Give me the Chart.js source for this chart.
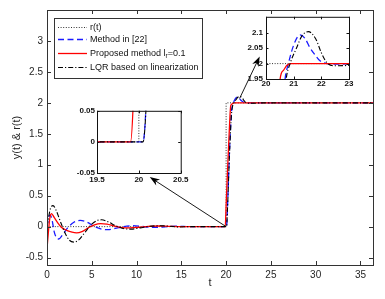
<!DOCTYPE html>
<html>
<head>
<meta charset="utf-8">
<script src="https://cdn.jsdelivr.net/npm/chart.js@4.4.0/dist/chart.umd.min.js"></script>
<style>
  body { margin: 0; background: #fff; }
  #wrap { position: relative; width: 385px; height: 299px; }
  #wrap canvas { position: absolute; }
</style>
</head>
<body>
<div id="wrap">
  <canvas id="mainChart" width="385" height="299" style="left:0;top:0"></canvas>
  <canvas id="zoomLow" width="130" height="84" style="left:60px;top:104px"></canvas>
  <canvas id="zoomHigh" width="128" height="84" style="left:232px;top:9px"></canvas>
</div>
<script>
var seriesNames = ['r(t)', 'Method in [22]', 'Proposed method l', 'LQR based on linearization'];

// reference r(t): step at t = 20
var tRef = [0, 20, 20, 36.5];
var yRef = [0, 0, 2, 2];

// Method in [22]
var tBlue = [0, 0.15, 0.35, 0.55, 0.8, 1.05, 1.3, 1.7, 2.3, 3.0, 3.7, 4.5, 5.3, 6.1, 6.8, 7.6, 8.5, 9.5, 10.5, 11.5, 12.5, 13.5, 14.5, 16,
             20.05, 20.15, 20.4, 20.6, 20.69, 20.81, 21.0, 21.23, 21.4, 21.6, 21.8, 21.95, 22.2, 22.6, 23.2, 36.5];
var yBlue = [0, 0.12, 0.19, 0.12, -0.08, -0.18, -0.2, -0.14, -0.02, 0.07, 0.1, 0.07, 0, -0.04, -0.05, -0.03, 0, 0.015, 0.005, -0.01, -0.01, 0, 0.006, 0,
             0, 0.3, 1.3, 1.85, 1.95, 2.0, 2.06, 2.093, 2.083, 2.05, 2.025, 2.009, 2.0, 1.998, 2.0, 2.0];

// Proposed method
var tRed = [0, 0.15, 0.3, 0.5, 0.8, 1.2, 1.6, 2.2, 2.8, 3.3, 3.9, 4.6, 5.3, 6.0, 6.7, 7.5, 8.4, 9.3, 10.3, 11.3, 12.4, 13.6, 15,
            19.9, 20.0, 20.2, 20.4, 20.51, 20.63, 20.75, 20.9, 36.5];
var yRed = [-0.36, -0.1, 0.12, 0.21, 0.15, 0.06, -0.01, -0.06, -0.09, -0.1, -0.08, -0.02, 0.03, 0.05, 0.04, 0.01, -0.015, -0.02, -0.01, 0.005, 0.01, 0.005, 0,
            0, 0.35, 1.05, 1.7, 1.95, 1.978, 1.994, 2.0, 2.0];

// LQR based on linearization
var tBlack = [0, 0.2, 0.4, 0.67, 1.0, 1.5, 2.0, 2.5, 3.0, 3.5, 4.2, 5.0, 5.6, 6.1, 6.8, 7.6, 8.5, 9.4, 10.4, 11.4, 12.5, 13.6, 14.8, 16,
              20.05, 20.15, 20.4, 20.6, 20.73, 20.87, 21.1, 21.3, 21.53, 21.8, 22.0, 22.2, 22.45, 23.0, 24, 36.5];
var yBlack = [0, 0.17, 0.3, 0.34, 0.27, 0.08, -0.1, -0.22, -0.25, -0.22, -0.1, 0.04, 0.1, 0.11, 0.08, 0.02, -0.03, -0.04, -0.02, 0.005, 0.015, 0.008, -0.005, 0,
              0, 0.28, 1.25, 1.82, 1.95, 2.0, 2.05, 2.09, 2.104, 2.08, 2.035, 2.003, 1.993, 1.994, 2.0, 2.0];

var mainXTicks = [0, 5, 10, 15, 20, 25, 30, 35];
var mainYTicks = [-0.5, 0, 0.5, 1, 1.5, 2, 2.5, 3];
var lowXTicks = [19.5, 20, 20.5];
var lowYTicks = [-0.05, 0, 0.05];
var highXTicks = [20, 21, 22, 23];
var highYTicks = [1.95, 2, 2.05, 2.1];

// arrows: [from x, from y, to x, to y] in main axis units
var arrows = [[20, 0, 11.47, 0.8], [21.5, 2.07, 23.75, 2.75]];

Chart.defaults.font.family = '"Liberation Sans", Arial, sans-serif';
Chart.defaults.color = '#262626';

function pts(ts, ys) {
    return ts.map(function(t, i) { return {x: t, y: ys[i]}; });
}

function buildSets() {
    return [
        {label: seriesNames[0], data: pts(tRef, yRef), borderColor: '#333', borderWidth: 1, borderDash: [1, 1.6], order: 3},
        {label: seriesNames[1], data: pts(tBlue, yBlue), borderColor: '#1a1aff', borderWidth: 1.3, borderDash: [6, 3.5], cubicInterpolationMode: 'monotone', order: 2},
        {label: seriesNames[2], data: pts(tRed, yRed), borderColor: '#ff0000', borderWidth: 1.3, cubicInterpolationMode: 'monotone', order: 1},
        {label: seriesNames[3], data: pts(tBlack, yBlack), borderColor: '#000', borderWidth: 1.1, borderDash: [5, 2, 1.2, 2], cubicInterpolationMode: 'monotone', order: 0}
    ];
}

// matlab style box with inward ticks
var framePlugin = {
    id: 'frame',
    beforeDatasetsDraw: function(chart, args, opts) {
        if (!opts.fill) return;
        var a = chart.chartArea;
        chart.ctx.save();
        chart.ctx.fillStyle = '#fff';
        chart.ctx.fillRect(a.left, a.top, a.width, a.height);
        chart.ctx.restore();
    },
    afterDatasetsDraw: function(chart, args, opts) {
        var ctx = chart.ctx, a = chart.chartArea, sx = chart.scales.x, sy = chart.scales.y;
        var L = opts.tick;
        ctx.save();
        ctx.strokeStyle = opts.color;
        ctx.lineWidth = opts.width;
        ctx.strokeRect(a.left + 0.5, a.top + 0.5, a.width, a.height);
        ctx.beginPath();
        sx.ticks.forEach(function(t) {
            var px = Math.round(sx.getPixelForValue(t.value)) + 0.5;
            ctx.moveTo(px, a.bottom); ctx.lineTo(px, a.bottom - L);
            ctx.moveTo(px, a.top); ctx.lineTo(px, a.top + L);
        });
        sy.ticks.forEach(function(t) {
            var py = Math.round(sy.getPixelForValue(t.value)) + 0.5;
            ctx.moveTo(a.left, py); ctx.lineTo(a.left + L, py);
            ctx.moveTo(a.right, py); ctx.lineTo(a.right - L, py);
        });
        ctx.stroke();
        ctx.restore();
    }
};

var arrowPlugin = {
    id: 'arrows',
    afterDatasetsDraw: function(chart) {
        var ctx = chart.ctx, sx = chart.scales.x, sy = chart.scales.y;
        ctx.save();
        ctx.strokeStyle = '#000';
        ctx.fillStyle = '#000';
        ctx.lineWidth = 0.9;
        arrows.forEach(function(ar) {
            var x1 = sx.getPixelForValue(ar[0]), y1 = sy.getPixelForValue(ar[1]);
            var x2 = sx.getPixelForValue(ar[2]), y2 = sy.getPixelForValue(ar[3]);
            var ang = Math.atan2(y2 - y1, x2 - x1);
            ctx.beginPath();
            ctx.moveTo(x1, y1);
            ctx.lineTo(x2 - 6 * Math.cos(ang), y2 - 6 * Math.sin(ang));
            ctx.stroke();
            ctx.beginPath();
            ctx.moveTo(x2, y2);
            ctx.lineTo(x2 - 10 * Math.cos(ang) + 3.5 * Math.sin(ang), y2 - 10 * Math.sin(ang) - 3.5 * Math.cos(ang));
            ctx.lineTo(x2 - 7 * Math.cos(ang), y2 - 7 * Math.sin(ang));
            ctx.lineTo(x2 - 10 * Math.cos(ang) - 3.5 * Math.sin(ang), y2 - 10 * Math.sin(ang) + 3.5 * Math.cos(ang));
            ctx.closePath();
            ctx.fill();
        });
        ctx.restore();
    }
};

var legendPlugin = {
    id: 'boxLegend',
    afterDraw: function(chart) {
        var ctx = chart.ctx, a = chart.chartArea;
        var x0 = a.left + 7, y0 = a.top + 8, w = 148, h = 60;
        var rows = [9, 20.5, 34.5, 49];
        ctx.save();
        ctx.fillStyle = '#fff';
        ctx.fillRect(x0, y0, w, h);
        ctx.strokeStyle = '#333';
        ctx.lineWidth = 1;
        ctx.strokeRect(x0 + 0.5, y0 + 0.5, w, h);
        chart.data.datasets.forEach(function(ds, i) {
            var y = Math.round(y0 + rows[i]) + 0.5;
            ctx.strokeStyle = ds.borderColor;
            ctx.lineWidth = ds.borderWidth;
            ctx.setLineDash(ds.borderDash || []);
            ctx.beginPath();
            ctx.moveTo(x0 + 4, y);
            ctx.lineTo(x0 + 33, y);
            ctx.stroke();
            ctx.setLineDash([]);
            ctx.fillStyle = '#111';
            ctx.font = '9px "Liberation Sans", Arial, sans-serif';
            ctx.textBaseline = 'middle';
            ctx.fillText(ds.label, x0 + 36, y);
            if (i === 2) {
                var tx = x0 + 36 + ctx.measureText(ds.label).width;
                ctx.font = '6.5px "Liberation Sans", Arial, sans-serif';
                ctx.fillText('r', tx, y + 3);
                tx += ctx.measureText('r').width;
                ctx.font = '9px "Liberation Sans", Arial, sans-serif';
                ctx.fillText('=0.1', tx, y);
            }
        });
        ctx.restore();
    }
};

function fmt(v) { return String(v); }

function makeChart(id, cfg) {
    return new Chart(document.getElementById(id), {
        type: 'line',
        data: {datasets: buildSets()},
        options: {
            responsive: false,
            animation: false,
            devicePixelRatio: 1,
            layout: {padding: cfg.padding},
            elements: {point: {radius: 0}},
            plugins: {
                legend: {display: false},
                tooltip: {enabled: false},
                frame: cfg.frame
            },
            scales: {
                x: {
                    type: 'linear',
                    min: cfg.xr[0], max: cfg.xr[1],
                    grid: {display: false, drawTicks: false},
                    border: {display: false},
                    afterBuildTicks: function(s) { s.ticks = cfg.xt.map(function(v) { return {value: v}; }); },
                    afterFit: function(s) { s.height = cfg.xh; },
                    ticks: {font: cfg.font, color: cfg.tickColor, padding: cfg.xpad, maxRotation: 0, autoSkip: false, callback: fmt},
                    title: cfg.xtitle || {display: false}
                },
                y: {
                    type: 'linear',
                    min: cfg.yr[0], max: cfg.yr[1],
                    grid: {display: false, drawTicks: false},
                    border: {display: false},
                    afterBuildTicks: function(s) { s.ticks = cfg.yt.map(function(v) { return {value: v}; }); },
                    afterFit: function(s) { s.width = cfg.yw; },
                    ticks: {font: cfg.font, color: cfg.tickColor, padding: cfg.ypad, autoSkip: false, callback: fmt},
                    title: cfg.ytitle || {display: false}
                }
            }
        },
        plugins: cfg.plugins
    });
}

makeChart('mainChart', {
    padding: {top: 7, right: 12, left: 0, bottom: 0},
    xr: [0, 36.4], yr: [-0.62, 3.5],
    xt: mainXTicks, yt: mainYTicks,
    xh: 34, yw: 47, xpad: 4, ypad: 4,
    font: {size: 10}, tickColor: '#262626',
    xtitle: {display: true, text: 't', font: {size: 11}, color: '#262626', padding: {top: 0, bottom: 9.5}},
    ytitle: {display: true, text: 'y(t) & r(t)', font: {size: 11}, color: '#262626', padding: {top: 10.5, bottom: 0}},
    frame: {color: '#333', width: 1, tick: 4, fill: false},
    plugins: [framePlugin, arrowPlugin, legendPlugin]
});

makeChart('zoomLow', {
    padding: {top: 6, right: 9, left: 0, bottom: 0},
    xr: [19.5, 20.5], yr: [-0.05, 0.05],
    xt: lowXTicks, yt: lowYTicks,
    xh: 15, yw: 37, xpad: 1.5, ypad: 2,
    font: {size: 8, weight: 'bold'}, tickColor: '#111',
    frame: {color: '#111', width: 1, tick: 2.5, fill: true},
    plugins: [framePlugin]
});

makeChart('zoomHigh', {
    padding: {top: 6, right: 11, left: 0, bottom: 0},
    xr: [20, 23], yr: [1.95, 2.152],
    xt: highXTicks, yt: highYTicks,
    xh: 14, yw: 34, xpad: 0, ypad: 3,
    font: {size: 8, weight: 'bold'}, tickColor: '#111',
    frame: {color: '#111', width: 1, tick: 2.5, fill: true},
    plugins: [framePlugin]
});
</script>
</body>
</html>
